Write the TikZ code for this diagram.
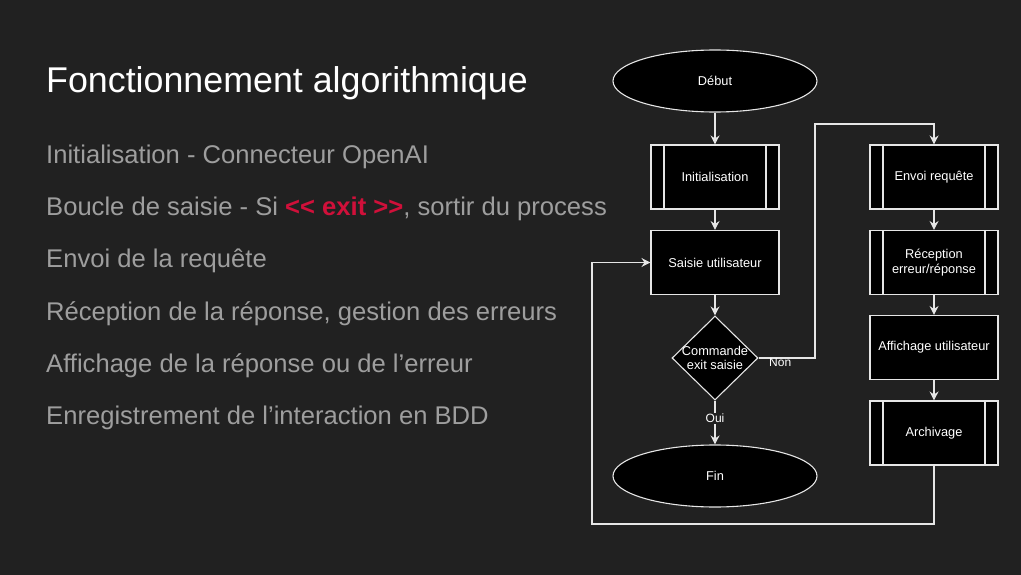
\documentclass[tikz,border=0pt]{standalone}
\usepackage{fontspec}
\setmainfont{Liberation Sans}
\usetikzlibrary{shapes.geometric,arrows.meta,calc}
\definecolor{bg}{HTML}{212121}
\definecolor{bodytxt}{HTML}{9E9E9E}
\definecolor{exitred}{HTML}{D0103A}
\definecolor{ln}{HTML}{E6E6E6}
\begin{document}
\begin{tikzpicture}[x=1pt,y=-1pt,
  body/.style={anchor=base west,text=bodytxt,font=\fontsize{25.6}{30}\selectfont,inner sep=0pt},
  fbox/.style={draw=ln,fill=black,line width=1.1pt,minimum width=128pt,minimum height=64pt,inner sep=0pt,text=white,font=\fontsize{12.8}{15}\selectfont,align=center},
  subproc/.style={fbox,path picture={
     \draw[ln,line width=1.1pt] ([xshift=13pt]path picture bounding box.north west) -- ([xshift=13pt]path picture bounding box.south west);
     \draw[ln,line width=1.1pt] ([xshift=-13pt]path picture bounding box.north east) -- ([xshift=-13pt]path picture bounding box.south east);}},
  term/.style={ellipse,draw=ln,fill=black,line width=1.1pt,minimum width=204pt,minimum height=62pt,inner sep=0pt,text=white,font=\fontsize{12.8}{15}\selectfont},
  conn/.style={draw=ln,line width=1.1pt,-{Stealth[length=9pt,width=9pt,inset=3pt]}},
  lbl/.style={text=white,font=\fontsize{12}{14}\selectfont,inner sep=1pt}
]
\useasboundingbox[fill=bg] (0,0) rectangle (1021,575);

\node[anchor=base west,text=white,font=\fontsize{35.8}{40}\selectfont,inner sep=0pt] (title) at (46,93) {Fonctionnement algorithmique};
\node[body] (l1) at (46,164) {Initialisation - Connecteur OpenAI};
\node[body] (l2) at (46,215) {Boucle de saisie - Si \textcolor{exitred}{\textbf{{<}{<} exit {>}{>}}}, sortir du process};
\node[body] (l3) at (46,267) {Envoi de la requête};
\node[body] (l4) at (46,320) {Réception de la réponse, gestion des erreurs};
\node[body] (l5) at (46,372) {Affichage de la réponse ou de l’erreur};
\node[body] (l6) at (46,424) {Enregistrement de l’interaction en BDD};

\node[term] (debut) at (715,81) {Début};
\node[subproc] (init) at (715,177) {Initialisation};
\node[fbox] (saisie) at (715,262.5) {Saisie utilisateur};
\node[diamond,draw=ln,fill=black,line width=1.1pt,minimum width=86pt,minimum height=84pt,inner sep=0pt,
  label={[text=white,font=\fontsize{12.8}{14}\selectfont,align=center]center:Commande\\exit saisie}] (dec) at (715,358) {};
\node[term] (fin) at (715,476) {Fin};

\node[subproc] (envoi) at (934,177) {Envoi requête};
\node[subproc] (recep) at (934,262.5) {Réception\\erreur/réponse};
\node[fbox] (affich) at (934,347.5) {Affichage utilisateur};
\node[subproc] (arch) at (934,433) {Archivage};

\coordinate (n1) at (815,358);
\coordinate (n2) at (815,124);
\coordinate (n3) at (934,124);
\coordinate (b1) at (934,524);
\coordinate (b2) at (592,524);
\coordinate (b3) at (592,262.5);

\draw[conn] (debut) -- (init);
\draw[conn] (init) -- (saisie);
\draw[conn] (saisie) -- (dec);
\draw[conn] (dec) -- node[lbl,fill=bg,pos=0.4] (oui) {Oui} (fin);
\draw[conn] (dec.east) -- (n1) -- (n2) -- (n3) -- (envoi.north);
\node[lbl,anchor=north west] (non) at (768,357) {Non};
\draw[conn] (envoi) -- (recep);
\draw[conn] (recep) -- (affich);
\draw[conn] (affich) -- (arch);
\draw[conn] (arch.south) -- (b1) -- (b2) -- (b3) -- (saisie.west);
\end{tikzpicture}
\end{document}
